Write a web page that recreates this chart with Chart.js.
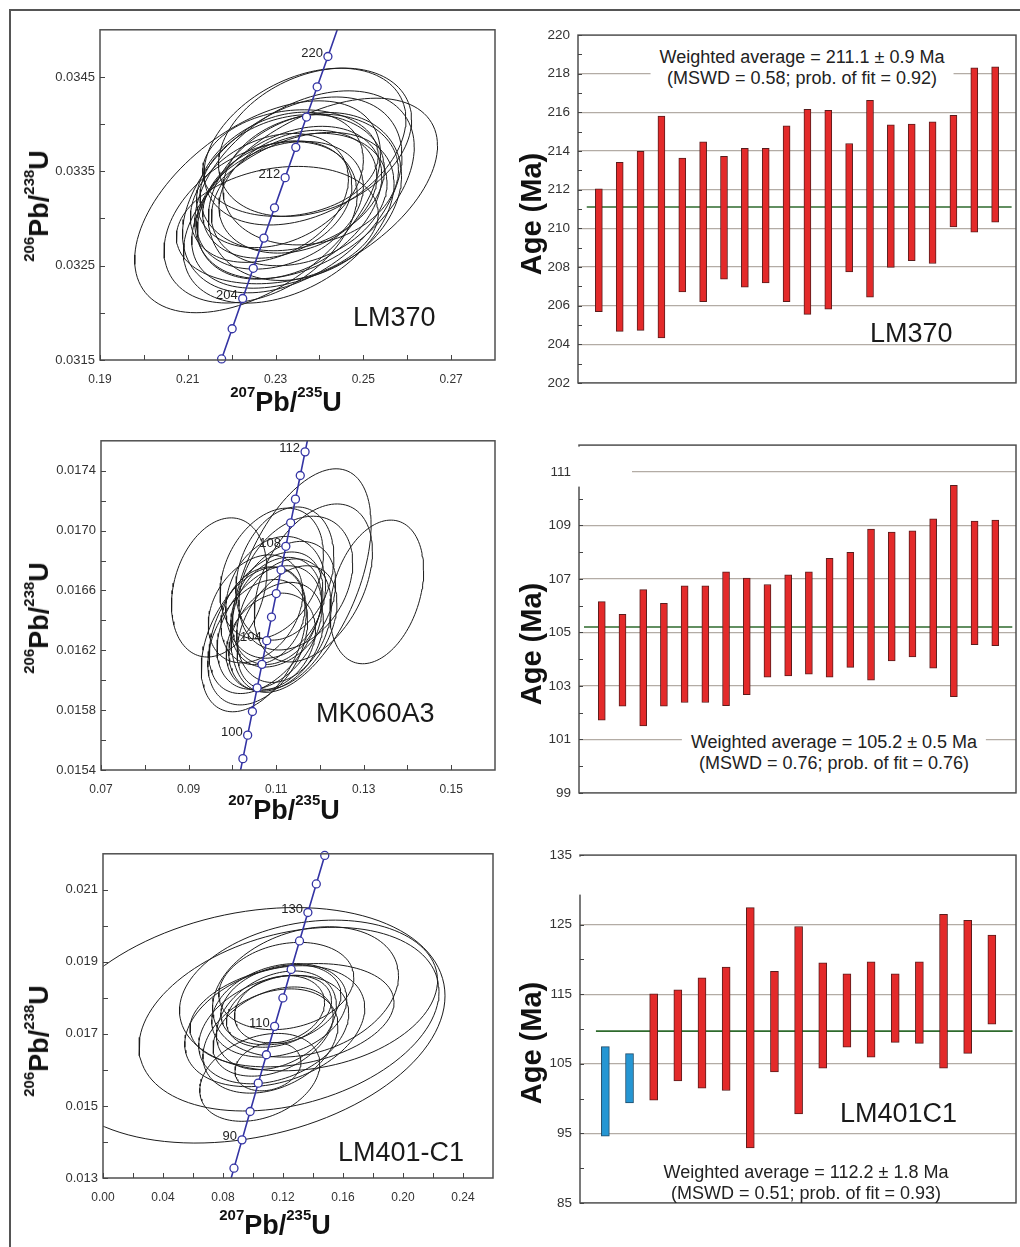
<!DOCTYPE html>
<html>
<head>
<meta charset="utf-8">
<script src="https://cdn.jsdelivr.net/npm/chart.js@4.4.1/dist/chart.umd.min.js"></script>
<style>
  body { margin: 0; width: 1020px; height: 1247px; overflow: hidden; position: relative; background: #fff;
         font-family: 'Liberation Sans', Arial, sans-serif; }
  .frame { position: absolute; left: 9px; top: 9px; width: 1100px; height: 1300px;
           border-left: 2px solid #555; border-top: 2px solid #555; }
  canvas { position: absolute; }
  .ax { position: absolute; white-space: nowrap; font-weight: bold; font-size: 27px; line-height: 27px; color: #111; }
  .ax.h { transform: translateX(-50%); }
  .ax.v { transform: translate(-50%, -50%) rotate(-90deg); }
  .ax.age { font-size: 29px; line-height: 29px; }
  .s { font-size: 15px; position: relative; top: -14px; }
  .tag { position: absolute; white-space: nowrap; font-size: 27px; line-height: 27px; color: #1a1a1a; }
  .wa { position: absolute; transform: translateX(-50%); white-space: nowrap; font-size: 18px; line-height: 21px;
        text-align: center; color: #222; background: #fff; padding: 0 9px; }
</style>
</head>
<body>
<div class="frame"></div>

<canvas id="c1" width="490" height="375" style="left:20px;top:17px"></canvas>
<canvas id="c2" width="500" height="380" style="left:520px;top:19px"></canvas>
<canvas id="c3" width="490" height="374" style="left:20px;top:428px"></canvas>
<canvas id="c4" width="500" height="380" style="left:520px;top:429px"></canvas>
<canvas id="c5" width="490" height="369" style="left:20px;top:841px"></canvas>
<canvas id="c6" width="500" height="380" style="left:520px;top:839px"></canvas>

<!-- axis titles -->
<div class="ax h" style="left:286px;top:389px"><span class="s">207</span>Pb/<span class="s">235</span>U</div>
<div class="ax h" style="left:284px;top:797px"><span class="s">207</span>Pb/<span class="s">235</span>U</div>
<div class="ax h" style="left:275px;top:1212px"><span class="s">207</span>Pb/<span class="s">235</span>U</div>
<div class="ax v" style="left:41px;top:206px"><span class="s">206</span>Pb/<span class="s">238</span>U</div>
<div class="ax v" style="left:41px;top:618px"><span class="s">206</span>Pb/<span class="s">238</span>U</div>
<div class="ax v" style="left:41px;top:1041px"><span class="s">206</span>Pb/<span class="s">238</span>U</div>
<div class="ax v age" style="left:531px;top:214px">Age (Ma)</div>
<div class="ax v age" style="left:531px;top:644px">Age (Ma)</div>
<div class="ax v age" style="left:531px;top:1043px">Age (Ma)</div>

<!-- sample names -->
<div class="tag" style="left:353px;top:304px">LM370</div>
<div class="tag" style="left:870px;top:320px">LM370</div>
<div class="tag" style="left:316px;top:700px">MK060A3</div>
<div class="tag" style="left:338px;top:1139px">LM401-C1</div>
<div class="tag" style="left:840px;top:1100px">LM401C1</div>

<!-- weighted averages -->
<div class="wa" style="left:802px;top:47px">Weighted average = 211.1 ± 0.9 Ma<br>(MSWD = 0.58; prob. of fit = 0.92)</div>
<div class="wa" style="left:834px;top:732px">Weighted average = 105.2 ± 0.5 Ma<br>(MSWD = 0.76; prob. of fit = 0.76)</div>
<div class="wa" style="left:806px;top:1162px;background:none">Weighted average = 112.2 ± 1.8 Ma<br>(MSWD = 0.51; prob. of fit = 0.93)</div>

<script>
// ---------- LM370 ----------
const lm370MarkAge = [200, 202, 204, 206, 208, 210, 212, 214, 216, 218, 220];
const lm370MarkX = [0.217708, 0.220109, 0.222513, 0.224924, 0.227340, 0.229760, 0.232184, 0.234614, 0.237048, 0.239486, 0.241930];
const lm370MarkY = [0.031511, 0.031831, 0.032152, 0.032472, 0.032792, 0.033113, 0.033433, 0.033754, 0.034075, 0.034396, 0.034717];
const lm370CurveEnds = [[0.215312, 0.031191], [0.244336, 0.035038]];
const lm370LabelAges = [204, 212, 220];
// ellipse: [x centre, y centre, x half-extent, y half-extent, rho]
const lm370Ellipses = [
  [0.2304, 0.032930, 0.023, 0.000622, 0.20], [0.2266, 0.032959, 0.022, 0.000855, 0.35],
  [0.2330, 0.033008, 0.024, 0.000905, 0.40], [0.2259, 0.033124, 0.028, 0.001123, 0.50],
  [0.2310, 0.033140, 0.019, 0.000677, 0.30], [0.2332, 0.033167, 0.021, 0.000810, 0.35],
  [0.2304, 0.033201, 0.017, 0.000622, 0.25], [0.2354, 0.033201, 0.020, 0.000702, 0.25],
  [0.2286, 0.033218, 0.018, 0.000683, 0.30], [0.2367, 0.033233, 0.022, 0.000890, 0.25],
  [0.2338, 0.033250, 0.025, 0.001038, 0.40], [0.2389, 0.033268, 0.028, 0.001007, 0.50],
  [0.2351, 0.033284, 0.018, 0.000651, 0.25], [0.2366, 0.033358, 0.025, 0.000995, 0.40],
  [0.2338, 0.033380, 0.021, 0.000722, 0.20], [0.2380, 0.033412, 0.020, 0.000692, 0.15],
  [0.2310, 0.033409, 0.019, 0.000718, 0.30], [0.2334, 0.033587, 0.020, 0.000565, 0.15],
  [0.2367, 0.033762, 0.023, 0.000831, 0.35], [0.2390, 0.033808, 0.022, 0.000786, 0.30]
];
const lm370XTicks = ['0.19', '0.21', '0.23', '0.25', '0.27'];
const lm370XMinor = [0.20, 0.22, 0.24, 0.26];
const lm370YTicks = ['0.0315', '0.0325', '0.0335', '0.0345'];
const lm370YMinor = [0.0320, 0.0330, 0.0340];

const lm370AgeLo = [205.68, 204.67, 204.72, 204.33, 206.71, 206.20, 207.37, 206.96, 207.17, 206.20,
                    205.55, 205.82, 207.74, 206.44, 207.98, 208.33, 208.18, 210.07, 209.80, 210.32];
const lm370AgeHi = [212.04, 213.41, 213.98, 215.81, 213.63, 214.47, 213.73, 214.14, 214.14, 215.30,
                    216.16, 216.11, 214.39, 216.62, 215.35, 215.40, 215.51, 215.85, 218.30, 218.36];
const lm370Mean = 211.1;
const lm370AgeTicks = [202, 204, 206, 208, 210, 212, 214, 216, 218, 220];
const lm370AgeMinor = [203, 205, 207, 209, 211, 213, 215, 217, 219];

// ---------- MK060A3 ----------
const mk060MarkAge = [99, 100, 101, 102, 103, 104, 105, 106, 107, 108, 109, 110, 111, 112];
const mk060MarkX = [0.102412, 0.103498, 0.104585, 0.105673, 0.106763, 0.107854, 0.108945, 0.110038,
                    0.111132, 0.112227, 0.113323, 0.114420, 0.115518, 0.116617];
const mk060MarkY = [0.015476, 0.015633, 0.015791, 0.015949, 0.016106, 0.016264, 0.016422, 0.016579,
                    0.016737, 0.016895, 0.017052, 0.017210, 0.017368, 0.017526];
const mk060CurveEnds = [[0.101326, 0.015318], [0.117717, 0.017684]];
const mk060LabelAges = [100, 104, 108, 112];
const mk060Ellipses = [
  [0.1058, 0.016254, 0.0114, 0.000419, 0.35], [0.1088, 0.016257, 0.0102, 0.000325, 0.25],
  [0.1049, 0.016272, 0.0120, 0.000483, 0.40], [0.1100, 0.016290, 0.0108, 0.000364, 0.30],
  [0.1085, 0.016352, 0.0120, 0.000413, 0.35], [0.1125, 0.016352, 0.0114, 0.000413, 0.40],
  [0.1077, 0.016384, 0.0130, 0.000473, 0.45], [0.1118, 0.016398, 0.0108, 0.000413, 0.25],
  [0.1070, 0.016431, 0.0096, 0.000327, 0.20], [0.1102, 0.016463, 0.0102, 0.000358, 0.25],
  [0.1053, 0.016477, 0.0108, 0.000361, 0.30], [0.1116, 0.016508, 0.0120, 0.000420, 0.35],
  [0.1099, 0.016554, 0.0114, 0.000407, 0.20], [0.1330, 0.016590, 0.0107, 0.000480, 0.30],
  [0.0970, 0.016620, 0.0109, 0.000465, 0.25], [0.1145, 0.016649, 0.0130, 0.000447, 0.30],
  [0.1185, 0.016650, 0.0135, 0.000528, 0.40], [0.1157, 0.016666, 0.0160, 0.000747, 0.50],
  [0.1090, 0.016713, 0.0118, 0.000437, 0.30], [0.1120, 0.016713, 0.0112, 0.000445, 0.25]
];
const mk060XTicks = ['0.07', '0.09', '0.11', '0.13', '0.15'];
const mk060XMinor = [0.08, 0.10, 0.12, 0.14];
const mk060YTicks = ['0.0154', '0.0158', '0.0162', '0.0166', '0.0170', '0.0174'];
const mk060YMinor = [0.0156, 0.0160, 0.0164, 0.0168, 0.0172];

const mk060AgeLo = [101.72, 102.24, 101.50, 102.24, 102.38, 102.38, 102.26, 102.67, 103.33, 103.37,
                    103.44, 103.33, 103.69, 103.21, 103.93, 104.08, 103.66, 102.60, 104.54, 104.50];
const mk060AgeHi = [106.15, 105.67, 106.60, 106.09, 106.74, 106.74, 107.26, 107.03, 106.79, 107.15,
                    107.26, 107.77, 107.99, 108.86, 108.75, 108.80, 109.24, 110.50, 109.16, 109.20];
const mk060Mean = 105.2;
const mk060AgeTicks = [99, 101, 103, 105, 107, 109, 111];
const mk060AgeMinor = [100, 102, 104, 106, 108, 110];

// ---------- LM401-C1 ----------
const lm401MarkAge = [85, 90, 95, 100, 105, 110, 115, 120, 125, 130, 135, 140];
const lm401MarkX = [0.087316, 0.092683, 0.098077, 0.103498, 0.108945, 0.114420, 0.119921, 0.125449,
                    0.131005, 0.136588, 0.142199, 0.147837];
const lm401MarkY = [0.013273, 0.014059, 0.014846, 0.015633, 0.016422, 0.017210, 0.017999, 0.018789,
                    0.019580, 0.020371, 0.021163, 0.021955];
const lm401CurveEnds = [[0.081975, 0.012487], [0.153503, 0.022748]];
const lm401LabelAges = [90, 110, 130];
const lm401Ellipses = [
  [0.1045, 0.015794, 0.040, 0.001220, 0.30], [0.1100, 0.016091, 0.022, 0.000671, 0.20],
  [0.1116, 0.016803, 0.045, 0.001447, 0.30], [0.1134, 0.017065, 0.040, 0.001238, 0.35],
  [0.1138, 0.017120, 0.050, 0.001505, 0.30], [0.1145, 0.017214, 0.060, 0.001679, 0.30],
  [0.0950, 0.017239, 0.133, 0.003269, 0.25], [0.1156, 0.017378, 0.040, 0.001369, 0.30],
  [0.1240, 0.017410, 0.100, 0.002550, 0.30], [0.1260, 0.017519, 0.068, 0.001434, 0.25],
  [0.1173, 0.017628, 0.035, 0.000998, 0.30], [0.1175, 0.017654, 0.045, 0.001299, 0.25],
  [0.1177, 0.017683, 0.030, 0.000933, 0.20], [0.1186, 0.017810, 0.040, 0.001112, 0.25],
  [0.1370, 0.018067, 0.086, 0.002092, 0.20], [0.1350, 0.018166, 0.062, 0.001809, 0.25],
  [0.1222, 0.018329, 0.045, 0.001212, 0.20]
];
const lm401XTicks = ['0.00', '0.04', '0.08', '0.12', '0.16', '0.20', '0.24'];
const lm401XMinor = [0.02, 0.06, 0.10, 0.14, 0.18, 0.22];
const lm401YTicks = ['0.013', '0.015', '0.017', '0.019', '0.021'];
const lm401YMinor = [0.014, 0.016, 0.018, 0.020];

const lm401AgeLo = [94.58, 99.36, 99.78, 102.54, 101.48, 101.16, 92.92, 103.83, 97.80, 104.38,
                    107.38, 105.95, 108.07, 107.93, 104.38, 106.50, 110.69];
const lm401AgeHi = [107.47, 106.45, 115.06, 115.62, 117.37, 118.89, 127.45, 118.29, 124.73, 119.53,
                    117.92, 119.67, 117.92, 119.67, 126.48, 125.61, 123.49];
const lm401Excluded = [true, true, false, false, false, false, false, false, false, false,
                       false, false, false, false, false, false, false];
const lm401Mean = 109.7;
const lm401AgeTicks = [85, 95, 105, 115, 125, 135];
const lm401AgeMinor = [90, 100, 110, 120, 130];

// ---------- styling ----------
const FONT = "'Liberation Sans', Arial, sans-serif";
const INK = '#1c1c1c';
const CONC_BLUE = '#3434a4';
const FRAME = '#4f4f4f';
const GRID = '#b3aca5';
const RED = '#e32a2a';
const RED_EDGE = '#5a1d1d';
const BLUE = '#2596d3';
const BLUE_EDGE = '#1d4a68';
const MEAN_GREEN = '#2e6a2c';

Chart.defaults.font.family = FONT;
Chart.defaults.color = '#333';
Chart.defaults.animation = false;

function framePlugin() {
  return {
    id: 'frame',
    afterDraw(chart) {
      const { ctx, chartArea: a } = chart;
      ctx.save();
      ctx.strokeStyle = FRAME;
      ctx.lineWidth = 1.5;
      ctx.strokeRect(a.left, a.top, a.right - a.left, a.bottom - a.top);
      ctx.restore();
    }
  };
}

// tick marks pointing into the plot
function inTicksPlugin(xs, ys, len) {
  return {
    id: 'inTicks',
    afterDraw(chart) {
      const { ctx, chartArea: a, scales } = chart;
      ctx.save();
      ctx.strokeStyle = '#444';
      ctx.lineWidth = 1;
      ctx.beginPath();
      xs.forEach(v => {
        const px = Math.round(scales.x.getPixelForValue(v)) + 0.5;
        ctx.moveTo(px, a.bottom);
        ctx.lineTo(px, a.bottom - len);
      });
      ys.forEach(v => {
        const py = Math.round(scales.y.getPixelForValue(v)) + 0.5;
        ctx.moveTo(a.left, py);
        ctx.lineTo(a.left + len, py);
      });
      ctx.stroke();
      ctx.restore();
    }
  };
}

function ageLabelPlugin(ages, markAges, xs, ys) {
  return {
    id: 'ageLabels',
    afterDatasetsDraw(chart) {
      const { ctx, scales } = chart;
      ctx.save();
      ctx.font = '13px ' + FONT;
      ctx.fillStyle = '#222';
      ctx.textAlign = 'right';
      ctx.textBaseline = 'middle';
      ages.forEach(age => {
        const i = markAges.indexOf(age);
        ctx.fillText(String(age), scales.x.getPixelForValue(xs[i]) - 5, scales.y.getPixelForValue(ys[i]) - 3);
      });
      ctx.restore();
    }
  };
}

// white patch over the top-left corner of a plot, as in the original
function maskPlugin(w, h) {
  return {
    id: 'mask',
    afterDraw(chart) {
      const { ctx, chartArea: a } = chart;
      ctx.save();
      ctx.fillStyle = '#fff';
      ctx.fillRect(a.left - 3, a.top + 1.5, w, h);
      ctx.restore();
    }
  };
}

function ellipseDataset(e) {
  const [cx, cy, rx, ry, rho] = e;
  const k = Math.sqrt(1 - rho * rho);
  const pts = [];
  for (let i = 0; i <= 120; i++) {
    const t = i / 120 * 2 * Math.PI;
    pts.push({ x: cx + rx * Math.cos(t), y: cy + ry * (rho * Math.cos(t) + k * Math.sin(t)) });
  }
  return { data: pts, showLine: true, borderColor: INK, borderWidth: 1, pointRadius: 0, tension: 0, order: 2 };
}

function concordiaPanel(id, o) {
  const marks = o.markX.map((x, i) => ({ x, y: o.markY[i] }));
  const curve = [{ x: o.ends[0][0], y: o.ends[0][1] }, ...marks, { x: o.ends[1][0], y: o.ends[1][1] }];
  const xVals = o.xTicks.map(Number);
  const yVals = o.yTicks.map(Number);

  new Chart(document.getElementById(id), {
    type: 'scatter',
    data: {
      datasets: [
        { data: marks, showLine: false, pointRadius: 4, pointBorderWidth: 1.3, pointBackgroundColor: '#fff',
          pointBorderColor: CONC_BLUE, clip: false, order: 0 },
        { data: curve, showLine: true, borderColor: CONC_BLUE, borderWidth: 1.6, pointRadius: 0, order: 1 },
        ...o.ellipses.map(ellipseDataset)
      ]
    },
    options: {
      responsive: false,
      animation: false,
      events: [],
      layout: { padding: { left: 0, top: 12, right: o.padRight, bottom: 0 } },
      plugins: { legend: { display: false }, tooltip: { enabled: false } },
      scales: {
        x: {
          type: 'linear', min: o.xMin, max: o.xMax,
          afterFit: s => { s.height = 32; },
          afterBuildTicks: s => { s.ticks = xVals.map(v => ({ value: v })); },
          ticks: { padding: 12, autoSkip: false, maxRotation: 0, font: { size: 12 },
                   callback: (v, i) => o.xTicks[i] },
          grid: { display: false, drawTicks: false },
          border: { display: false }
        },
        y: {
          type: 'linear', min: o.yMin, max: o.yMax,
          afterFit: s => { s.width = o.yWidth; },
          afterBuildTicks: s => { s.ticks = yVals.map(v => ({ value: v })); },
          ticks: { padding: 5, autoSkip: false, font: { size: 13 },
                   callback: (v, i) => o.yTicks[i] },
          grid: { display: false, drawTicks: false },
          border: { display: false }
        }
      }
    },
    plugins: [
      framePlugin(),
      inTicksPlugin([...xVals, ...o.xMinor], [...yVals, ...o.yMinor], 5),
      ageLabelPlugin(o.labelAges, o.markAge, o.markX, o.markY)
    ]
  });
}

function agePanel(id, o) {
  const bars = o.lo.map((lo, i) => ({ x: i + 1, y: [lo, o.hi[i]] }));
  const excluded = o.excluded || o.lo.map(() => false);
  const plugins = [framePlugin(), inTicksPlugin([], [...o.yTicks, ...o.yMinor], 4)];
  if (o.mask) plugins.push(maskPlugin(o.mask[0], o.mask[1]));

  new Chart(document.getElementById(id), {
    type: 'bar',
    data: {
      datasets: [
        { type: 'bar', data: bars, barThickness: o.barW, borderWidth: 1, borderSkipped: false,
          backgroundColor: excluded.map(f => f ? BLUE : RED),
          borderColor: excluded.map(f => f ? BLUE_EDGE : RED_EDGE), order: 1 },
        { type: 'line', data: [{ x: o.meanFrom, y: o.mean }, { x: o.meanTo, y: o.mean }],
          borderColor: MEAN_GREEN, borderWidth: 1.6, pointRadius: 0, order: 2 }
      ]
    },
    options: {
      responsive: false,
      animation: false,
      events: [],
      layout: { padding: { left: 0, top: 12, right: 4, bottom: 6 } },
      plugins: { legend: { display: false }, tooltip: { enabled: false } },
      scales: {
        x: { type: 'linear', display: false, offset: false, min: o.xMin, max: o.xMax },
        y: {
          type: 'linear', min: o.yMin, max: o.yMax,
          afterFit: s => { s.width = o.yWidth; },
          afterBuildTicks: s => { s.ticks = o.yTicks.map(v => ({ value: v })); },
          ticks: { padding: 8, autoSkip: false, font: { size: 13.5 }, callback: v => String(v) },
          grid: {
            drawTicks: false, lineWidth: 1.2,
            color: c => (c.tick && (c.tick.value <= o.yMin || c.tick.value >= o.yMax)) ? 'rgba(0,0,0,0)' : GRID
          },
          border: { display: false }
        }
      }
    },
    plugins
  });
}

concordiaPanel('c1', {
  markAge: lm370MarkAge, markX: lm370MarkX, markY: lm370MarkY, ends: lm370CurveEnds, labelAges: lm370LabelAges,
  ellipses: lm370Ellipses, xTicks: lm370XTicks, xMinor: lm370XMinor, yTicks: lm370YTicks, yMinor: lm370YMinor,
  xMin: 0.19, xMax: 0.28, yMin: 0.0315, yMax: 0.0350, yWidth: 80, padRight: 15
});
concordiaPanel('c3', {
  markAge: mk060MarkAge, markX: mk060MarkX, markY: mk060MarkY, ends: mk060CurveEnds, labelAges: mk060LabelAges,
  ellipses: mk060Ellipses, xTicks: mk060XTicks, xMinor: mk060XMinor, yTicks: mk060YTicks, yMinor: mk060YMinor,
  xMin: 0.07, xMax: 0.16, yMin: 0.0154, yMax: 0.0176, yWidth: 81, padRight: 15
});
concordiaPanel('c5', {
  markAge: lm401MarkAge, markX: lm401MarkX, markY: lm401MarkY, ends: lm401CurveEnds, labelAges: lm401LabelAges,
  ellipses: lm401Ellipses, xTicks: lm401XTicks, xMinor: lm401XMinor, yTicks: lm401YTicks, yMinor: lm401YMinor,
  xMin: 0.0, xMax: 0.26, yMin: 0.013, yMax: 0.022, yWidth: 83, padRight: 17
});

agePanel('c2', {
  lo: lm370AgeLo, hi: lm370AgeHi, mean: lm370Mean, meanFrom: 0.42, meanTo: 20.79,
  yTicks: lm370AgeTicks, yMinor: lm370AgeMinor, yMin: 202, yMax: 220, xMin: 0, xMax: 21,
  yWidth: 58, barW: 7
});
agePanel('c4', {
  lo: mk060AgeLo, hi: mk060AgeHi, mean: mk060Mean, meanFrom: 0.14, meanTo: 20.82,
  yTicks: mk060AgeTicks, yMinor: mk060AgeMinor, yMin: 99, yMax: 112, xMin: -0.1, xMax: 21,
  yWidth: 59, barW: 7, mask: [56, 40]
});
agePanel('c6', {
  lo: lm401AgeLo, hi: lm401AgeHi, excluded: lm401Excluded, mean: lm401Mean, meanFrom: 0.61, meanTo: 17.86,
  yTicks: lm401AgeTicks, yMinor: lm401AgeMinor, yMin: 85, yMax: 135, xMin: -0.05, xMax: 18,
  yWidth: 60, barW: 8, mask: [56, 38]
});
</script>
</body>
</html>
